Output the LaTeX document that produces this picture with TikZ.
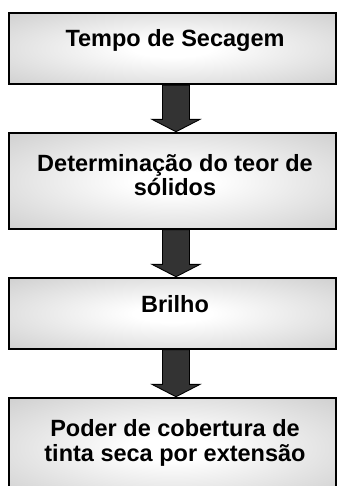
\documentclass[tikz,border=0pt]{standalone}
\usepackage{fontspec}
\setmainfont{Liberation Sans}
\usetikzlibrary{calc}
\pgfdeclareradialshading{boxglow}{\pgfpoint{0bp}{0bp}}{color(0bp)=(white); color(6bp)=(white); color(38bp)=(black!20); color(50bp)=(black!27); color(75bp)=(black!29)}
\begin{document}
\begin{tikzpicture}[x=1pt,y=1pt,
  boxstyle/.style={draw=black, line width=1.3pt, shading=boxglow, minimum width=327pt, inner sep=0pt},
  txt/.style={font=\bfseries\fontsize{23.5}{24.5}\selectfont, align=center, anchor=base, inner sep=0pt},
  bigarrow/.style={draw=black, line width=0.9pt, fill=black!80}]
\useasboundingbox (0,0) rectangle (337,-486);
\clip (0,0) rectangle (337,-486);
\node[boxstyle, minimum height=71pt] (b1) at (172.5,-48.5) {};
\node[boxstyle, minimum height=96pt] (b2) at (172.5,-181) {};
\node[boxstyle, minimum height=71pt] (b3) at (172.5,-313.5) {};
\node[boxstyle, minimum height=100pt] (b4) at (172.5,-448) {};
\node[txt] (t1) at (175,-47) {Tempo de Secagem};
\node[txt] (t2) at (175,-196) {Determinação do teor de\\sólidos};
\node[txt] (t3) at (175,-312) {Brilho};
\node[txt] (t4) at (175,-461) {Poder de cobertura de\\tinta seca por extensão};
\foreach \u/\v in {b1/b2,b2/b3,b3/b4}{
  \draw[bigarrow] let \p1=(\u.south), \p2=(\v.north) in
    (\x1-10pt,\y1-0.6pt) -- (\x1+17pt,\y1-0.6pt) -- (\x1+17pt,\y2+13pt) -- (\x1+27.5pt,\y2+13pt)
    -- (\x1+3.5pt,\y2+0.6pt) -- (\x1-20.5pt,\y2+13pt) -- (\x1-10pt,\y2+13pt) -- cycle;
}
\end{tikzpicture}
\end{document}
